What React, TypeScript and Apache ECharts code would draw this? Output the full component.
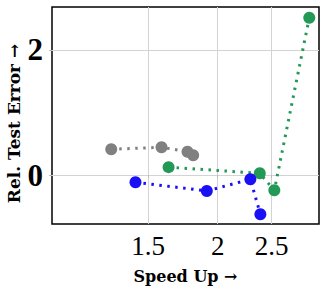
import React, { useEffect, useRef } from "react";
import * as echarts from "echarts";

const grayX = [1.287, 1.585, 1.765, 1.807];
const grayY = [0.414, 0.446, 0.375, 0.318];
const greenX = [1.632, 2.381, 2.529, 2.923];
const greenY = [0.128, 0.03, -0.241, 2.516];
const blueX = [1.423, 1.912, 2.29, 2.387];
const blueY = [-0.113, -0.252, -0.065, -0.625];
const xTicks = [1.5, 2, 2.5];
const yTicks = [0, 2];
const xRange = [1.007, 3.043];
const yRange = [-0.78, 2.687];

const FONT = "'Liberation Serif', 'DejaVu Serif', serif";
const NAME_FONT = "'DejaVu Serif', 'Liberation Serif', serif";

const lg = (v: number) => Math.log10(v);

function pairs(xs: number[], ys: number[]) {
  return xs.map((x, i) => [lg(x), ys[i]]);
}

function makeSeries(xs: number[], ys: number[], color: string) {
  return {
    type: "line",
    data: pairs(xs, ys),
    symbol: "circle",
    symbolSize: 12,
    itemStyle: { color },
    lineStyle: { color, width: 3, type: [2.5, 5.5] },
    z: 3,
  };
}

export default function App() {
  const ref = useRef<HTMLDivElement>(null);
  useEffect(() => {
    if (!ref.current) return;
    const chart = echarts.init(ref.current, undefined, { renderer: "svg" });
    chart.setOption({
      animation: false,
      grid: {
        left: 52,
        right: 6,
        top: 7,
        bottom: 72,
        show: true,
        borderColor: "#000",
        borderWidth: 1.5,
        backgroundColor: "#fff",
        containLabel: false,
        outerBoundsMode: "none",
      },
      xAxis: {
        type: "value",
        min: lg(xRange[0]),
        max: lg(xRange[1]),
        name: "Speed Up →",
        nameLocation: "middle",
        nameGap: 44,
        nameMoveOverlap: false,
        nameTextStyle: { fontFamily: NAME_FONT, fontWeight: "bold", fontSize: 16, color: "#000", verticalAlign: "top" },
        axisLine: { show: false },
        axisTick: { show: true, customValues: xTicks.map(lg), length: 3, lineStyle: { color: "#bbb" } },
        splitLine: { show: true, lineStyle: { color: "#d3d3d3", width: 1 } },
        axisLabel: {
          customValues: xTicks.map(lg),
          formatter: (v: number) => String(Math.round(Math.pow(10, v) * 10) / 10),
          fontFamily: FONT,
          fontSize: 27,
          color: "#000",
          margin: 8,
        },
      },
      yAxis: {
        type: "value",
        min: yRange[0],
        max: yRange[1],
        name: "Rel. Test Error →",
        nameLocation: "middle",
        nameGap: 30,
        nameMoveOverlap: false,
        nameTextStyle: {
          fontFamily: NAME_FONT,
          fontWeight: "bold",
          fontSize: 17,
          color: "#000",
          padding: [0, 16, 0, 0],
        },
        axisLine: { show: false },
        axisTick: { show: true, customValues: yTicks, length: 3, lineStyle: { color: "#bbb" } },
        splitLine: { show: true, lineStyle: { color: "#d3d3d3", width: 1 } },
        axisLabel: {
          customValues: yTicks,
          formatter: (v: number) => String(Math.round(v)),
          fontFamily: FONT,
          fontWeight: "bold",
          fontSize: 31,
          color: "#000",
          margin: 9,
        },
      },
      series: [
        makeSeries(grayX, grayY, "#808080"),
        makeSeries(greenX, greenY, "#229955"),
        makeSeries(blueX, blueY, "#1a10f5"),
      ],
    });
    return () => chart.dispose();
  }, []);
  return <div ref={ref} style={{ width: 325, height: 296, position: "absolute", left: 0, top: 0 }} />;
}
